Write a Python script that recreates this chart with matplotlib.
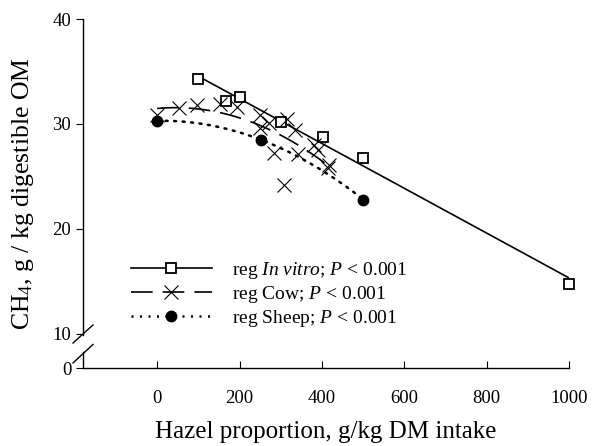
import numpy as np
import matplotlib
matplotlib.use("Agg")
import matplotlib.pyplot as plt
import matplotlib.transforms as mtransforms

plt.rcParams['font.family'] = ['Liberation Serif', 'DejaVu Serif']
plt.rcParams['mathtext.fontset'] = 'custom'
plt.rcParams['mathtext.rm'] = 'Liberation Serif'
plt.rcParams['mathtext.it'] = 'Liberation Serif:italic'

# in vitro
vitro_x = [100, 168, 202, 301, 402, 501, 1000]
vitro_y = [34.3, 32.2, 32.6, 30.2, 28.8, 26.8, 14.8]

# cow
cow_x = [0, 52, 98, 153, 194, 250, 250, 271, 283, 307, 315, 335, 343, 380, 390, 415, 417]
cow_y = [30.9, 31.5, 31.8, 31.9, 31.6, 30.9, 29.6, 30.1, 27.2, 24.2, 30.5, 29.4, 27.1, 28.0, 27.5, 25.8, 26.1]

# sheep
sheep_x = [0, 252, 501]
sheep_y = [30.3, 28.5, 22.8]

y_ticks = [0, 10, 20, 30, 40]
x_ticks = [0, 200, 400, 600, 800, 1000]


def ty(v):
    # squeeze the 0-10 part of the y axis (broken axis)
    v = np.asarray(v, dtype=float)
    return np.where(v >= 10, v, 10 - (10 - v) * 0.324)


fig = plt.figure(figsize=(5.92, 4.46), dpi=100)
ax = fig.add_axes([83 / 592, 1 - 368 / 446, 486 / 592, 349 / 446])

# regressions
a = np.polyfit(vitro_x, vitro_y, 1)
xs = np.linspace(min(vitro_x), max(vitro_x), 100)
ax.plot(xs, ty(np.polyval(a, xs)), color='black', lw=1.2)

b = np.polyfit(cow_x, cow_y, 2)
xs = np.linspace(0, 420, 100)
ax.plot(xs, ty(np.polyval(b, xs)), color='black', lw=1.2, dashes=(13, 6))

c = np.polyfit(sheep_x, sheep_y, 2)
xs = np.linspace(0, 501, 100)
ax.plot(xs, ty(np.polyval(c, xs)), color='black', lw=1.8, dashes=(0.8, 2.6),
        dash_capstyle='round')

# points
ax.plot(vitro_x, ty(vitro_y), ls='none', marker='s', ms=7, mfc='white', mec='black',
        mew=1.3, clip_on=False, zorder=3)
ax.plot(cow_x, ty(cow_y), ls='none', marker='x', ms=10, mec='black', mew=0.8,
        clip_on=False, zorder=3)
ax.plot(sheep_x, ty(sheep_y), ls='none', marker='o', ms=7.5, color='black',
        clip_on=False, zorder=3)

# legend handles
h1, = ax.plot([], [], color='black', lw=1.2, marker='s', ms=7, mfc='white', mec='black', mew=1.3)
h2, = ax.plot([], [], color='black', lw=1.2, dashes=(13, 6), marker='x', ms=10, mew=0.8)
h3, = ax.plot([], [], color='black', lw=1.8, dashes=(0.8, 2.6), marker='o', ms=7.5)
ax.legend([h1, h2, h3],
          [r'reg $\mathit{In\ vitro}$; $\mathit{P}$ < 0.001',
           r'reg Cow; $\mathit{P}$ < 0.001',
           r'reg Sheep; $\mathit{P}$ < 0.001'],
          loc='upper left', bbox_to_anchor=(0.07, 0.349), frameon=False,
          fontsize=14, handlelength=4.2, handletextpad=1.0, labelspacing=0.15,
          numpoints=1, borderpad=0.2)

ax.set_xlim(-180, 1000)
ax.set_ylim(float(ty(0)), 40)
ax.set_xticks(x_ticks)
ax.set_yticks(ty(y_ticks))
ax.set_yticklabels([str(t) for t in y_ticks])
ax.tick_params(axis='x', direction='in', length=5, labelsize=13.5, pad=16)
ax.tick_params(axis='y', direction='out', length=5, labelsize=13.5)

for s in ['top', 'right']:
    ax.spines[s].set_visible(False)
ax.spines['left'].set_bounds(9.9, 40)
ax.spines['bottom'].set_linewidth(1.0)
ax.spines['left'].set_linewidth(1.0)

# lower piece of y axis and break marks
tr = mtransforms.blended_transform_factory(ax.transAxes, ax.transData)
ax.plot([0, 0], [float(ty(0)), 8.3], color='black', lw=1.0, transform=tr, clip_on=False)
d = 10 / 486
ax.plot([-d, d], [9.14, 10.86], color='black', lw=1.0, transform=tr, clip_on=False)
ax.plot([-d, d], [7.24, 9.0], color='black', lw=1.0, transform=tr, clip_on=False)

ax.set_xlabel('Hazel proportion, g/kg DM intake', fontsize=18, labelpad=10)
ax.set_ylabel(r'CH$_4$, g / kg digestible OM', fontsize=18.5, labelpad=12)

fig.savefig('out.png', dpi=100)
